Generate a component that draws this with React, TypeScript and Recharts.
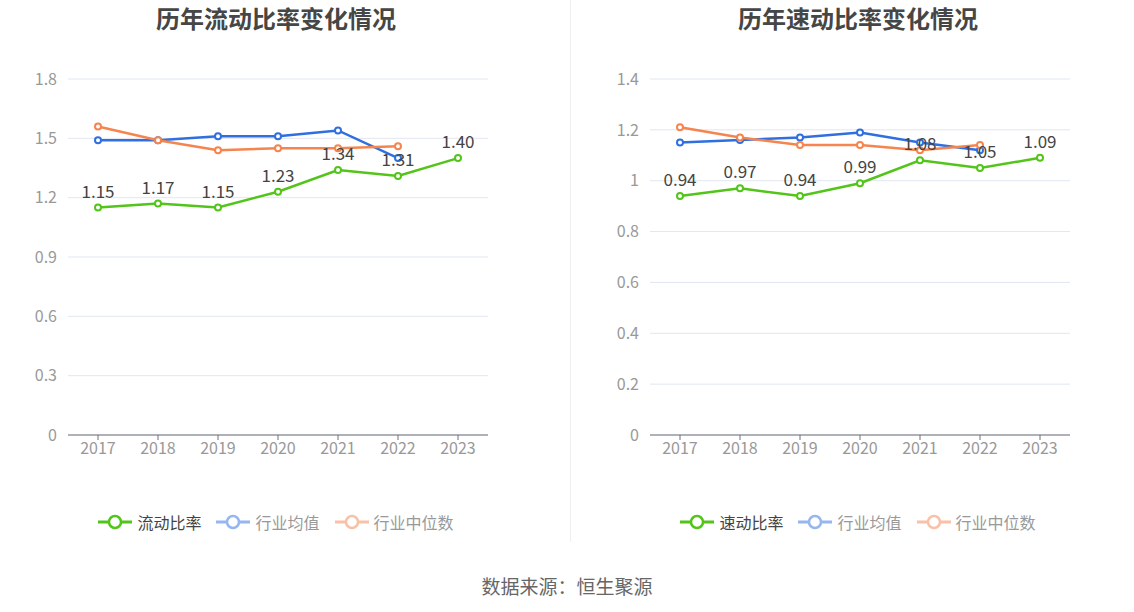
import React from 'react';
import { LineChart, Line, XAxis, YAxis, CartesianGrid, LabelList } from 'recharts';

const years = ['2017', '2018', '2019', '2020', '2021', '2022', '2023'];

const currentRatio = [1.15, 1.17, 1.15, 1.23, 1.34, 1.31, 1.40];
const currentIndustryMean = [1.49, 1.49, 1.51, 1.51, 1.54, 1.40, null];
const currentIndustryMedian = [1.56, 1.49, 1.44, 1.45, 1.45, 1.46, null];

const quickRatio = [0.94, 0.97, 0.94, 0.99, 1.08, 1.05, 1.09];
const quickIndustryMean = [1.15, 1.16, 1.17, 1.19, 1.15, 1.12, null];
const quickIndustryMedian = [1.21, 1.17, 1.14, 1.14, 1.12, 1.14, null];

const leftTicks = [0, 0.3, 0.6, 0.9, 1.2, 1.5, 1.8];
const rightTicks = [0, 0.2, 0.4, 0.6, 0.8, 1, 1.2, 1.4];

const GREEN = '#52c41a';
const BLUE = '#2f6fe0';
const ORANGE = '#f5844f';
const FONT = '"Noto Sans CJK SC", "Noto Sans", sans-serif';

function build(a: (number | null)[], b: (number | null)[], c: (number | null)[]) {
  return years.map((y, i) => ({ year: y, main: a[i], mean: b[i], median: c[i] }));
}

const leftData = build(currentRatio, currentIndustryMean, currentIndustryMedian);
const rightData = build(quickRatio, quickIndustryMean, quickIndustryMedian);

function LegendContent({ mainName }: { mainName: string }) {
  const items = [
    { name: mainName, color: GREEN, op: 1, text: '#444' },
    { name: '行业均值', color: BLUE, op: 0.5, text: '#999' },
    { name: '行业中位数', color: ORANGE, op: 0.5, text: '#999' },
  ];
  return (
    <div style={{ display: 'flex', justifyContent: 'center', gap: 15, fontFamily: FONT, fontSize: 16 }}>
      {items.map((it) => (
        <div key={it.name} style={{ display: 'flex', alignItems: 'center' }}>
          <svg width={34} height={16} style={{ opacity: it.op, marginRight: 5 }}>
            <line x1={0} y1={8} x2={34} y2={8} stroke={it.color} strokeWidth={3} />
            <circle cx={17} cy={8} r={6} fill="#fff" stroke={it.color} strokeWidth={2.5} />
          </svg>
          <span style={{ color: it.text }}>{it.name}</span>
        </div>
      ))}
    </div>
  );
}

function Chart({ data, ticks, max, title, mainName, left, marginLeft, marginRight, center }: any) {
  return (
    <div style={{ position: 'absolute', left, top: 0, width: 567, height: 612 }}>
      <div
        style={{
          position: 'absolute',
          top: 0,
          left: 0,
          width: center * 2,
          textAlign: 'center',
          fontFamily: FONT,
          fontWeight: 'bold',
          fontSize: 24,
          lineHeight: '36px',
          color: '#464646',
        }}
      >
        {title}
      </div>
      <LineChart
        width={567}
        height={612}
        data={data}
        margin={{ top: 79, right: marginRight, bottom: 147, left: marginLeft - 68 }}
      >
        <CartesianGrid horizontal vertical={false} stroke="#e0e6f1" />
        <XAxis
          dataKey="year"
          axisLine={{ stroke: '#6e7079' }}
          tickLine={{ stroke: '#6e7079' }}
          tickSize={5}
          padding={{ left: 30, right: 30 }}
          tick={{ fill: '#999', fontSize: 16, fontFamily: FONT }}
          tickMargin={3}
          height={30}
        />
        <YAxis
          domain={[0, max]}
          ticks={ticks}
          interval={0}
          axisLine={false}
          tickLine={false}
          width={68}
          tickMargin={5}
          tick={{ fill: '#999', fontSize: 16, fontFamily: FONT }}
        />
        <Line
          dataKey="main"
          stroke={GREEN}
          strokeWidth={2.5}
          dot={{ r: 3, fill: '#fff', stroke: GREEN, strokeWidth: 2 }}
          isAnimationActive={false}
        >
          <LabelList
            dataKey="main"
            position="top"
            offset={10}
            formatter={(v: any) => Number(v).toFixed(2)}
            style={{ fill: '#444', fontSize: 17, fontFamily: FONT }}
          />
        </Line>
        <Line
          dataKey="mean"
          stroke={BLUE}
          strokeWidth={2.5}
          dot={{ r: 3, fill: '#fff', stroke: BLUE, strokeWidth: 2 }}
          isAnimationActive={false}
        />
        <Line
          dataKey="median"
          stroke={ORANGE}
          strokeWidth={2.5}
          dot={{ r: 3, fill: '#fff', stroke: ORANGE, strokeWidth: 2 }}
          isAnimationActive={false}
        />
      </LineChart>
      <div style={{ position: 'absolute', top: 510, left: 0, width: center * 2 }}>
        <LegendContent mainName={mainName} />
      </div>
    </div>
  );
}

export default function App() {
  return (
    <div style={{ position: 'absolute', left: 0, top: 0, width: 1134, height: 612, background: '#fff', overflow: 'hidden' }}>
      <Chart
        data={leftData}
        ticks={leftTicks}
        max={1.8}
        title="历年流动比率变化情况"
        mainName="流动比率"
        left={0}
        marginLeft={68}
        marginRight={79}
        center={276}
      />
      <Chart
        data={rightData}
        ticks={rightTicks}
        max={1.4}
        title="历年速动比率变化情况"
        mainName="速动比率"
        left={567}
        marginLeft={83}
        marginRight={64}
        center={291}
      />
      <div style={{ position: 'absolute', left: 570, top: 0, width: 1, height: 542, background: '#eeeeee' }} />
      <div
        style={{
          position: 'absolute',
          left: 0,
          top: 572,
          width: 1134,
          textAlign: 'center',
          fontFamily: FONT,
          fontSize: 19,
          color: '#666',
        }}
      >
        数据来源：恒生聚源
      </div>
    </div>
  );
}
